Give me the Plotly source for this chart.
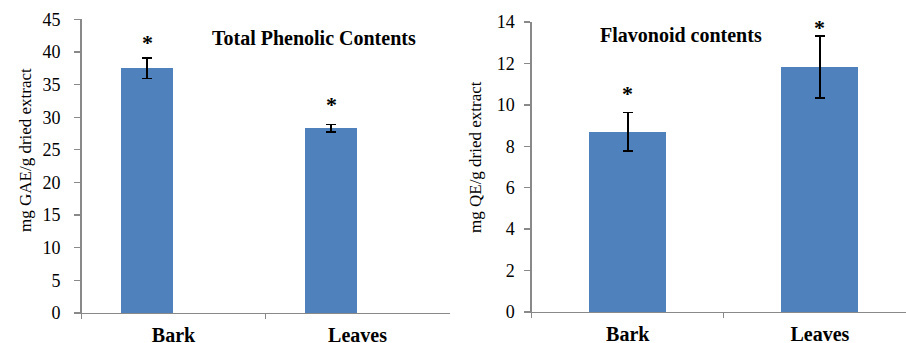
import plotly.graph_objects as go

categories = ["Bark", "Leaves"]
phenolic_values = [37.5, 28.3]
phenolic_errors = [1.6, 0.6]
flavonoid_values = [8.71, 11.83]
flavonoid_errors = [0.93, 1.5]
phenolic_ticks = [0, 5, 10, 15, 20, 25, 30, 35, 40, 45]
flavonoid_ticks = [0, 2, 4, 6, 8, 10, 12, 14]
star_label = "*"

W, H = 906, 343
BAR = "#4F81BD"
AXC = "#898989"
FONT = "Liberation Serif, Times New Roman, serif"

# left panel: bars sit left of their category centre, as in the source chart
left_bar_width = 0.283
left_bar_shift = -0.144

fig = go.Figure()
fig.add_trace(go.Bar(
    x=categories, y=phenolic_values, width=left_bar_width,
    offset=left_bar_shift - left_bar_width / 2,
    marker=dict(color=BAR, line=dict(width=0)),
    error_y=dict(type="data", array=phenolic_errors, color="black", thickness=1.5, width=5),
    xaxis="x", yaxis="y", showlegend=False, hoverinfo="skip"))
fig.add_trace(go.Bar(
    x=categories, y=flavonoid_values, width=0.40,
    marker=dict(color=BAR, line=dict(width=0)),
    error_y=dict(type="data", array=flavonoid_errors, color="black", thickness=1.5, width=5),
    xaxis="x2", yaxis="y2", showlegend=False, hoverinfo="skip"))

def px_x(p):
    return p / W

def px_y(p):
    return 1 - p / H

common_x = dict(
    type="category", showgrid=False, zeroline=False, showline=True, linecolor=AXC, linewidth=1.3,
    ticks="outside", tickson="boundaries", ticklen=5, tickcolor=AXC, tickwidth=1.3,
    tickfont=dict(family=FONT, size=20, color="black", weight="bold"),
    automargin=False, fixedrange=True, ticklabelstandoff=4,
)
common_y = dict(
    showgrid=False, zeroline=False, showline=True, linecolor=AXC, linewidth=1.3,
    ticks="outside", ticklen=6, tickcolor=AXC, tickwidth=1.3,
    tickfont=dict(family=FONT, size=18, color="black"),
    automargin=False, fixedrange=True,
)

fig.update_layout(
    width=W, height=H, margin=dict(l=0, r=0, t=0, b=0),
    paper_bgcolor="white", plot_bgcolor="white", template="none",
    bargap=0,
    xaxis=dict(common_x, domain=[px_x(81.5), px_x(449.5)], range=[-0.5, 1.5], anchor="y"),
    yaxis=dict(common_y, domain=[px_y(313), px_y(19.3)], range=[0, 45],
               tickmode="array", tickvals=phenolic_ticks, anchor="x", ticklabelstandoff=10),
    xaxis2=dict(common_x, domain=[px_x(531.7), 1.0], range=[-0.5, 1.448], anchor="y2"),
    yaxis2=dict(common_y, domain=[px_y(312), px_y(22)], range=[0, 14],
                tickmode="array", tickvals=flavonoid_ticks, anchor="x2", ticklabelstandoff=6),
)

ann = []
ann.append(dict(text="<b>Total Phenolic Contents</b>", x=px_x(314), y=px_y(38),
                xref="paper", yref="paper", showarrow=False, xanchor="center", yanchor="middle",
                font=dict(family=FONT, size=20, color="black")))
ann.append(dict(text="<b>Flavonoid contents</b>", x=px_x(681), y=px_y(35),
                xref="paper", yref="paper", showarrow=False, xanchor="center", yanchor="middle",
                font=dict(family=FONT, size=20, color="black")))
ann.append(dict(text="mg GAE/g dried extract", x=px_x(25), y=px_y(150),
                xref="paper", yref="paper", showarrow=False, textangle=-90,
                xanchor="center", yanchor="middle",
                font=dict(family=FONT, size=17, color="black")))
ann.append(dict(text="mg QE/g dried extract", x=px_x(475), y=px_y(157),
                xref="paper", yref="paper", showarrow=False, textangle=-90,
                xanchor="center", yanchor="middle",
                font=dict(family=FONT, size=17, color="black")))

left_star_gap = [15, 20]
right_star_gap = [19, 8]
left_shift_px = left_bar_shift * (449.5 - 81.5) / 2.0
for i, c in enumerate(categories):
    ann.append(dict(text="<b>" + star_label + "</b>", x=c, y=phenolic_values[i] + phenolic_errors[i],
                    xref="x", yref="y", showarrow=False, xanchor="center", yanchor="middle",
                    yshift=left_star_gap[i], xshift=left_shift_px,
                    font=dict(family=FONT, size=22, color="black")))
    ann.append(dict(text="<b>" + star_label + "</b>", x=c, y=flavonoid_values[i] + flavonoid_errors[i],
                    xref="x2", yref="y2", showarrow=False, xanchor="center", yanchor="middle",
                    yshift=right_star_gap[i],
                    font=dict(family=FONT, size=22, color="black")))
fig.update_layout(annotations=ann)

fig.write_html("out.html", config={"displayModeBar": False, "staticPlot": True},
               post_script="document.body.style.margin='0';document.body.style.overflow='hidden';")
